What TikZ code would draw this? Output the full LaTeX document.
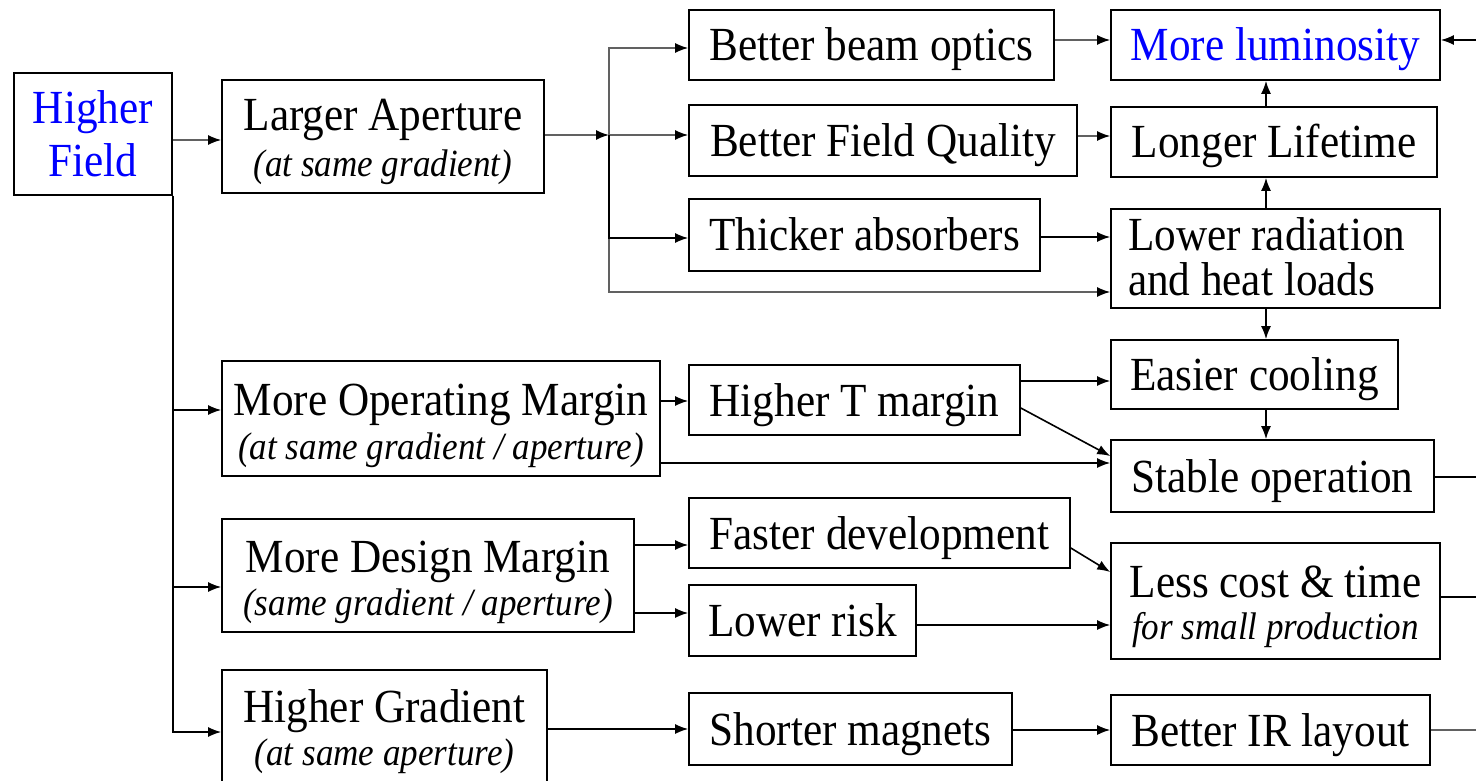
\documentclass[tikz,border=0pt]{standalone}
\usepackage{fontspec}
\setmainfont[FakeStretch=0.91]{Liberation Serif}
\usetikzlibrary{arrows.meta}
\newcommand\mfont{\fontsize{47.5}{47}\selectfont}
\newcommand\ifont{\fontsize{38.5}{47}\selectfont\itshape}
\newcommand\up[1]{\rule{0pt}{#1pt}}
\newcommand\dn{\rule[-12pt]{0pt}{12pt}}
\definecolor{lgray}{gray}{0.38}
\begin{document}
\begin{tikzpicture}[x=1pt,y=-1pt,
  box/.style={draw, line width=1.6pt, inner sep=0pt, align=center, font=\mfont},
  one/.style={box, text height=44pt, text depth=12pt},
  arr/.style={line width=1.6pt, -{Latex[length=13pt,width=10pt]}},
  garr/.style={line width=1.6pt, draw=lgray, -{Latex[length=13pt,width=10pt,black]}},
  gline/.style={line width=1.6pt, draw=lgray},
  bline/.style={line width=1.6pt}]
\useasboundingbox (0,0) rectangle (1476,781);
\clip (0,0) rectangle (1476,781);

% left column
\node[box, minimum width=158pt, minimum height=122pt, text=blue] (hf) at (93,134)
  {\up{45}Higher\\[6pt]Field\dn};
\node[box, minimum width=322pt, minimum height=113pt] (la) at (383,136.5)
  {\up{46}Larger Aperture\\{\ifont (at same gradient)\dn}};
\node[box, minimum width=438pt, minimum height=115pt] (mom) at (441,418.5)
  {\up{49}More Operating Margin\\[-3pt]{\ifont (at same gradient / aperture)\dn}};
\node[box, minimum width=412pt, minimum height=113pt] (mdm) at (428,575.5)
  {\up{48.5}More Design Margin\\[-4pt]{\ifont (same gradient / aperture)\dn}};
\node[box, minimum width=325pt, minimum height=125pt] (hg) at (384.5,732.5)
  {\up{36}Higher Gradient\\[-4pt]{\ifont (at same aperture)\rule[-14pt]{0pt}{14pt}}};

% middle column
\node[one, minimum width=365pt, minimum height=70pt] (bbo) at (871.5,45) {Better beam optics};
\node[one, minimum width=388pt, minimum height=71pt] (bfq) at (883,140.5) {Better Field Quality};
\node[one, minimum width=351pt, minimum height=72pt] (ta) at (864.5,235) {Thicker absorbers};
\node[one, minimum width=331pt, minimum height=70pt] (htm) at (854.5,400) {Higher T margin};
\node[one, minimum width=381pt, minimum height=70pt] (fd) at (879.5,533) {Faster development};
\node[one, minimum width=227pt, minimum height=71pt] (lrisk) at (802.5,620.5) {Lower risk};
\node[one, minimum width=323pt, minimum height=72pt] (sm) at (850.5,729) {Shorter magnets};

% right column
\node[one, minimum width=329pt, minimum height=70pt, text=blue] (ml) at (1275.5,45) {More luminosity};
\node[one, minimum width=326pt, minimum height=70pt] (ll) at (1274,142) {Longer Lifetime};
\node[box, minimum width=329pt, minimum height=97pt, text width=295pt, align=flush left] (lr) at (1275.5,258.5)
  {\up{41}Lower radiation\\[-1pt]and heat loads\dn};
\node[one, minimum width=287pt, minimum height=69pt] (ec) at (1254.5,374.5) {Easier cooling};
\node[one, minimum width=323pt, minimum height=72pt] (so) at (1272.5,476) {Stable operation};
\node[box, minimum width=329pt, minimum height=116pt] (lc) at (1275.5,601)
  {\up{46}Less cost \& time\\[-5pt]{\ifont for small production\dn}};
\node[one, minimum width=319pt, minimum height=70pt] (bir) at (1270.5,730) {Better IR layout};

% helper coordinates
\coordinate (j) at (609,135);
\coordinate (cx) at (1266,0);
\coordinate (e0) at (1490,40);
\coordinate (e1) at (1490,477);
\coordinate (e2) at (1490,597);
\coordinate (e3) at (1490,730);

% Higher Field connections
\draw[garr] (hf.east |- 0,140) -- (la.west |- 0,140);
\draw[arr] (hf.south east) |- (hg.west |- 0,732);
\draw[arr] (hf.south east) |- (mom.west |- 0,410);
\draw[arr] (hf.south east) |- (mdm.west |- 0,587);

% Larger aperture branch
\draw[garr] (la.east |- j) -- (j);
\draw[garr] (j) -- (bfq.west |- j);
\draw[garr] (j) |- (bbo.west |- 0,48);
\draw[garr] (j) |- (lr.west |- 0,292);
\draw[arr] (j) |- (ta.west |- 0,238);

% middle to right, top part
\draw[garr] (bbo.east |- 0,40) -- (ml.west |- 0,40);
\draw[garr] (bfq.east |- 0,136) -- (ll.west |- 0,136);
\draw[arr] (ta.east |- 0,237) -- (lr.west |- 0,237);
\draw[arr] (ll.north -| cx) -- (ml.south -| cx);
\draw[arr] (lr.north -| cx) -- (ll.south -| cx);
\draw[arr] (lr.south -| cx) -- (ec.north -| cx);
\draw[arr] (ec.south -| cx) -- (so.north -| cx);

% operating margin
\draw[arr] (mom.east |- 0,401) -- (htm.west |- 0,401);
\draw[arr] (htm.east |- 0,381) -- (ec.west |- 0,381);
\draw[arr] (htm.east |- 0,408) -- (so.west |- 0,456);
\draw[arr] (mom.east |- 0,463) -- (so.west |- 0,463);

% design margin
\draw[arr] (mdm.east |- 0,545) -- (fd.west |- 0,545);
\draw[arr] (mdm.east |- 0,613) -- (lrisk.west |- 0,613);
\draw[arr] (fd.east |- 0,548) -- (lc.west |- 0,572);
\draw[arr] (lrisk.east |- 0,625) -- (lc.west |- 0,625);

% gradient
\draw[arr] (hg.east |- sm.west) -- (sm.west);
\draw[arr] (sm.east |- 0,730) -- (bir.west |- 0,730);

% to / from right edge
\draw[bline] (so.east |- e1) -- (e1);
\draw[bline] (lc.east |- e2) -- (e2);
\draw[gline] (bir.east |- e3) -- (e3);
\draw[arr] (e0) -- (ml.east |- e0);
\end{tikzpicture}
\end{document}
